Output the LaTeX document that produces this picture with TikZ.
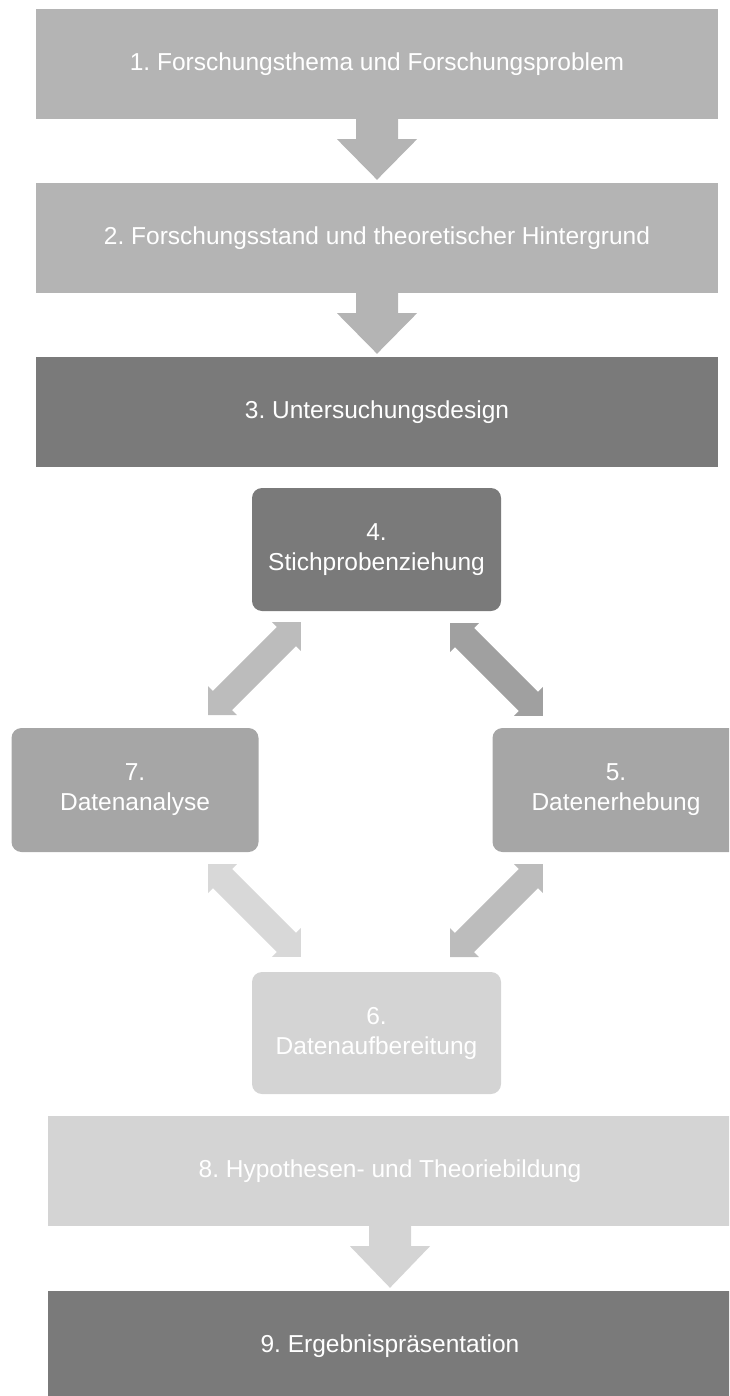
\documentclass[tikz,border=0pt]{standalone}
\usepackage{fontspec}
\setmainfont{Liberation Sans}
\frenchspacing
\definecolor{cA}{HTML}{B4B4B4}
\definecolor{cD}{HTML}{7A7A7A}
\definecolor{cM}{HTML}{A6A6A6}
\definecolor{cL}{HTML}{D4D4D4}
\definecolor{aA}{HTML}{BCBCBC}
\definecolor{aB}{HTML}{A0A0A0}
\definecolor{aC}{HTML}{D8D8D8}
\newcommand\dnarrow[3]{%
  \fill[#1] ([xshift=-21pt]#2.south) -- ([xshift=-21pt,yshift=-20pt]#2.south)
    -- ([xshift=-40pt,yshift=-20pt]#2.south) -- ([yshift=3pt]#3.north)
    -- ([xshift=40pt,yshift=-20pt]#2.south) -- ([xshift=21pt,yshift=-20pt]#2.south)
    -- ([xshift=21pt]#2.south) -- cycle;}
\newcommand\dgarrow[3]{%
  \begin{scope}[shift={(#2)},rotate=#3]
    \fill[#1] (0,0) -- (20.5,20.5) -- (20.5,13.5) -- (111,13.5) -- (111,20.5)
      -- (131.5,0) -- (111,-20.5) -- (111,-13.5) -- (20.5,-13.5) -- (20.5,-20.5) -- cycle;
  \end{scope}}
\begin{document}
\begin{tikzpicture}[x=1pt,y=-1pt,
  txt/.style={text=white,align=center,inner sep=0pt,font=\fontsize{24.5}{30}\selectfont},
  widebox/.style={txt,fill=#1,minimum width=682pt,minimum height=110pt},
  roundbox/.style={txt,fill=#1,rounded corners=10pt,minimum width=249pt,minimum height=123pt}]
\useasboundingbox (0,0) rectangle (729,1396);
\clip (0,0) rectangle (729,1396);

\node[widebox=cA] (b1) at (377,64) {1. Forschungsthema und Forschungsproblem};
\node[widebox=cA] (b2) at (377,238) {2. Forschungsstand und theoretischer Hintergrund};
\node[widebox=cD] (b3) at (377,412) {3. Untersuchungsdesign};

\node[roundbox=cD] (b4) at (376.5,549.5) {4.\\Stichprobenziehung};
\node[roundbox=cM, minimum width=247pt, minimum height=124pt] (b7) at (135,790) {7.\\Datenanalyse};
\node[roundbox=cM, minimum width=247pt, minimum height=124pt] (b5) at (616,790) {5.\\Datenerhebung};
\node[roundbox=cL, minimum height=122pt] (b6) at (376.5,1033) {6.\\Datenaufbereitung};

\node[widebox=cL, minimum width=684pt] (b8) at (390,1171) {8. Hypothesen- und Theoriebildung};
\node[widebox=cD, minimum width=684pt] (b9) at (390,1346) {9. Ergebnispräsentation};

\dnarrow{cA}{b1}{b2}
\dnarrow{cA}{b2}{b3}
\dnarrow{cL}{b8}{b9}

\coordinate (t47a) at (208,715);
\coordinate (t45a) at (450,623);
\coordinate (t76a) at (208,864);
\coordinate (t65a) at (450,957);
\dgarrow{aA}{t47a}{45}
\dgarrow{aB}{t45a}{-45}
\dgarrow{aC}{t76a}{-45}
\dgarrow{aA}{t65a}{45}
\end{tikzpicture}
\end{document}
